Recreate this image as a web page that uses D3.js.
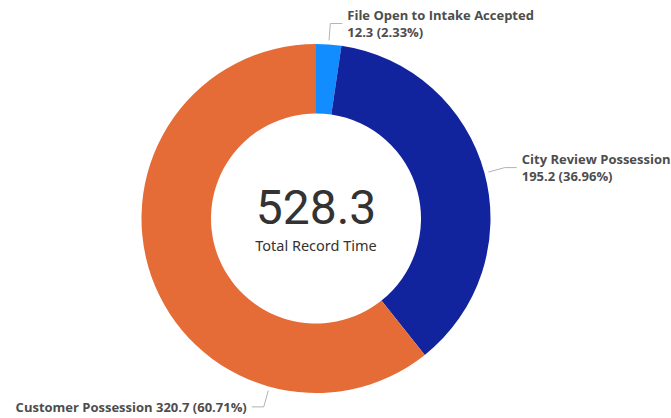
<!DOCTYPE html>
<html>
<head>
<meta charset="utf-8">
<script src="https://cdn.jsdelivr.net/npm/d3@7"></script>
<style>
  body { margin: 0; background: #fff; }
  svg { display: block; }
</style>
</head>
<body>
<div id="chart"></div>
<script>
// data
let categories = ["File Open to Intake Accepted", "City Review Possession", "Customer Possession"]
let values = [12.31, 195.24, 320.74]
let colors = ["#118DFF", "#12239E", "#E66C37"]
let centerLabel = "Total Record Time"

// where each leader line leaves the ring (deg, clockwise from top); null = slice middle
let leaderAngles = [null, null, 195.5]

let width = 671, height = 418
let cx = 316, cy = 218.5
let outerR = 174.5, innerR = 105

let fmt = d3.format(".1f")
let pctFmt = d3.format(".2%")
let total = d3.sum(values)

let data = categories.map(function (c, i) {
    return { name: c, value: values[i], color: colors[i], leader: leaderAngles[i] }
})

let svg = d3.select("#chart").append("svg")
    .attr("width", width)
    .attr("height", height)

let g = svg.append("g")
    .attr("transform", "translate(" + cx + "," + cy + ")")

let pie = d3.pie()
    .sort(null)
    .value(function (d) { return d.value })

let arc = d3.arc()
    .innerRadius(innerR)
    .outerRadius(outerR)

let arcs = pie(data)

g.selectAll("path.slice")
    .data(arcs)
    .enter().append("path")
    .attr("class", "slice")
    .attr("d", arc)
    .attr("fill", function (d) { return d.data.color })

function deg2rad(deg) {
    return deg * Math.PI / 180
}

function polar(angle, r) {
    return [r * Math.sin(angle), -r * Math.cos(angle)]
}

// labels
let labelFont = "'Open Sans', 'Noto Sans', sans-serif"

arcs.forEach(function (d) {
    let a = d.data.leader == null ? (d.startAngle + d.endAngle) / 2 : deg2rad(d.data.leader)
    let right = Math.sin(a) >= 0
    let p0 = polar(a, outerR + 4)
    let p1 = polar(a, outerR + 21)
    let p2 = [p1[0] + (right ? 12 : -12), p1[1]]

    g.append("polyline")
        .attr("points", [p0, p1, p2].map(function (p) { return p.join(",") }).join(" "))
        .attr("fill", "none")
        .attr("stroke", "#b3b3b3")
        .attr("stroke-width", 1)

    let valueText = fmt(d.data.value) + " (" + pctFmt(d.data.value / total) + ")"
    let tx = p2[0] + (right ? 5 : -5)
    let text = g.append("text")
        .attr("text-anchor", right ? "start" : "end")
        .style("font-family", labelFont)
        .style("font-size", "13px")
        .style("font-weight", 700)
        .attr("fill", "#4d4d4d")

    if (right) {
        text.append("tspan").attr("x", tx).attr("y", p2[1] - 4).text(d.data.name)
        text.append("tspan").attr("x", tx).attr("y", p2[1] + 13).text(valueText)
    } else {
        text.append("tspan").attr("x", tx).attr("y", p2[1] + 5).text(d.data.name + " " + valueText)
    }
})

// centre total
g.append("text")
    .attr("text-anchor", "middle")
    .attr("y", 5.5)
    .style("font-family", "Roboto, sans-serif")
    .style("font-size", "48px")
    .attr("fill", "#333333")
    .text(fmt(total))

g.append("text")
    .attr("text-anchor", "middle")
    .attr("y", 32.5)
    .style("font-family", "'Noto Sans', sans-serif")
    .style("font-size", "14.5px")
    .attr("fill", "#333333")
    .text(centerLabel)
</script>
</body>
</html>
